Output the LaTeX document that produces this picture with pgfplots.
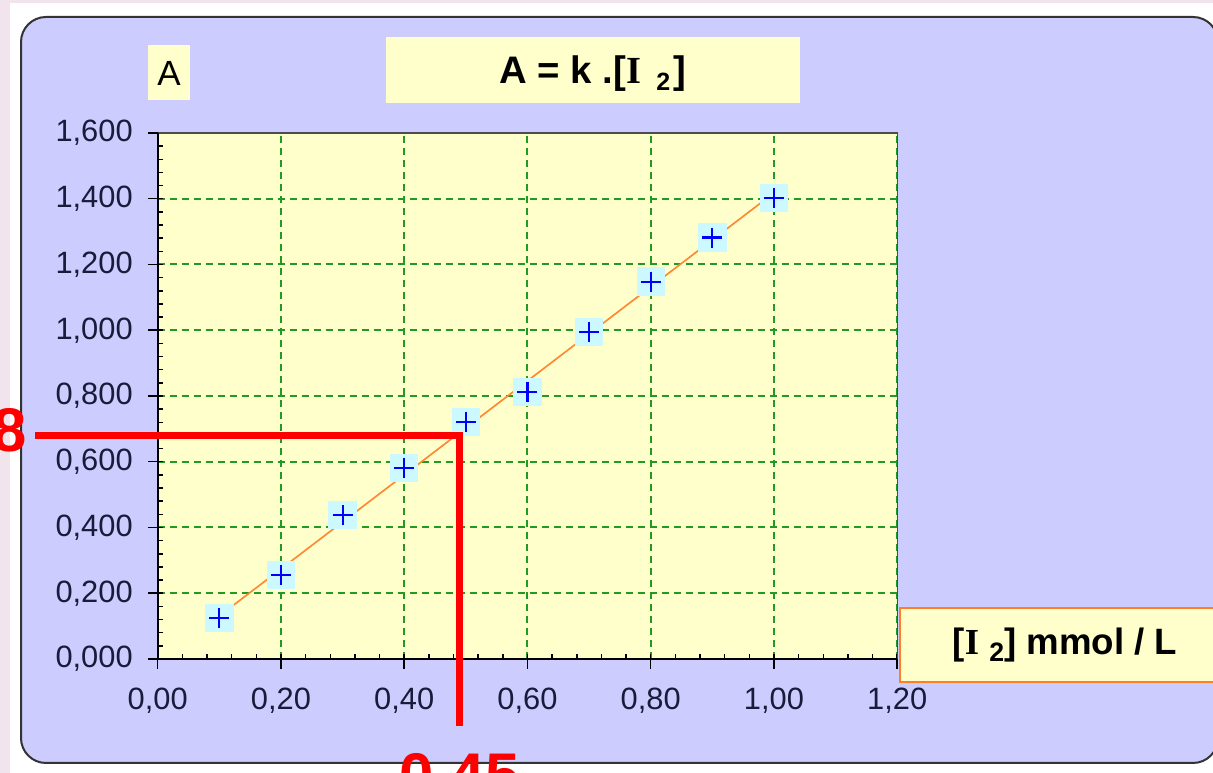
\documentclass[border=0pt]{standalone}
\usepackage{fontspec}
\setmainfont{Liberation Sans}
\newfontfamily\seriffont{Liberation Serif}
\usepackage{pgfplots}
\usepackage{pgfplotstable}
\pgfplotsset{compat=1.18}
\definecolor{outerpink}{HTML}{F2E4EC}
\definecolor{panel}{HTML}{CCCCFF}
\definecolor{plotbg}{HTML}{FFFFCC}
\definecolor{gridgreen}{HTML}{229922}
\definecolor{markbg}{HTML}{CCF8FF}
\definecolor{fitorange}{HTML}{FF8833}
\definecolor{ticktext}{HTML}{1A1A3A}
\definecolor{boxorange}{HTML}{FF7F27}
\pgfplotstableread{
x y
0.1 0.124
0.2 0.256
0.3 0.438
0.4 0.581
0.5 0.721
0.6 0.812
0.7 0.994
0.8 1.148
0.9 1.282
1.0 1.402
}\datatable
\begin{document}
\begin{tikzpicture}[x=0.6pt,y=0.6pt]
\useasboundingbox (0,0) rectangle (1213,773);
\clip (0,0) rectangle (1213,773);
\fill[outerpink] (0,0) rectangle (1213,773);
\fill[white] (10,0) rectangle (1213,770);
\filldraw[fill=panel, draw=black!80, line width=1.2pt, rounded corners=15pt] (21,10) rectangle (1218,756);
% label boxes
\fill[plotbg] (386,670) rectangle (800,736);
\node[font=\bfseries\fontsize{23}{25}\selectfont, inner sep=0] at (593,699)
  {A = k .[{\seriffont I}\hspace{0.4em}\raisebox{-0.35ex}{\fontsize{15}{16}\selectfont 2}\hspace{0.1em}]};
\fill[plotbg] (148,673) rectangle (190,728);
\node[font=\fontsize{21}{22}\selectfont, inner sep=0] at (169,700) {A};
\begin{axis}[
  at={(94.65pt,68.4pt)}, anchor=south west,
  scale only axis, width=443.7pt, height=315.6pt,
  xmin=0, xmax=1.2, ymin=0, ymax=1.6,
  axis background/.style={fill=plotbg},
  clip=false,
  xtick={0,0.2,0.4,0.6,0.8,1.0,1.2},
  ytick={0,0.2,0.4,0.6,0.8,1.0,1.2,1.4,1.6},
  minor x tick num=4, minor y tick num=4,
  tick pos=left,
  tick align=inside,
  major tick length=3pt, minor tick length=3pt,
  tick style={black, line width=0.9pt},
  extra x ticks={0,0.2,0.4,0.6,0.8,1.0,1.2},
  extra x tick labels={},
  extra y ticks={0,0.2,0.4,0.6,0.8,1.0,1.2,1.4,1.6},
  extra y tick labels={},
  extra tick style={tick align=outside, major tick length=6pt, grid=none},
  grid=major,
  major grid style={gridgreen, dash pattern=on 4.2pt off 3pt, line width=1.2pt},
  axis line style={draw=black!70, line width=0.8pt},
  /pgf/number format/assume math mode=true,
  ticklabel style={font=\fontsize{18.5}{20}\selectfont, color=ticktext},
  yticklabel style={xshift=-11.5pt, /pgf/number format/.cd, fixed, fixed zerofill, precision=3, use comma, 1000 sep={}},
  xticklabel style={yshift=-14pt, /pgf/number format/.cd, fixed, fixed zerofill, precision=2, use comma, 1000 sep={}},
]
\addplot[only marks, mark=square*, mark size=8.2pt, mark options={fill=markbg, draw=markbg, line width=0pt}] table[x=x,y=y] {\datatable};
\addplot[fitorange, line width=1pt] coordinates {(0.1,0.131) (1.0,1.418)};
\addplot[only marks, mark=+, mark size=6pt, mark options={blue, line width=1.3pt}] table[x=x,y=y] {\datatable};
\draw[black, line width=1.2pt] (rel axis cs:0,1) -- (rel axis cs:0,0) -- (rel axis cs:1,0);
\end{axis}
% x label box
\filldraw[fill=plotbg, draw=boxorange, line width=1pt] (900,91) rectangle (1230,165);
\node[font=\bfseries\fontsize{22}{24}\selectfont, inner sep=0] at (1065,128)
  {[{\seriffont I} \raisebox{-0.35ex}{\fontsize{16}{17}\selectfont 2}] mmol / L};
% red annotation
\draw[red, line width=4.2pt, line join=miter] (35,337) -- (459.5,337) -- (459.5,47);
\node[red, font=\bfseries\fontsize{37}{40}\selectfont, anchor=base east, inner sep=0] at (27,321) {0,68};
\node[red, font=\bfseries\fontsize{37}{40}\selectfont, anchor=base west, inner sep=0] at (399,-24) {0,45};
\end{tikzpicture}
\end{document}
